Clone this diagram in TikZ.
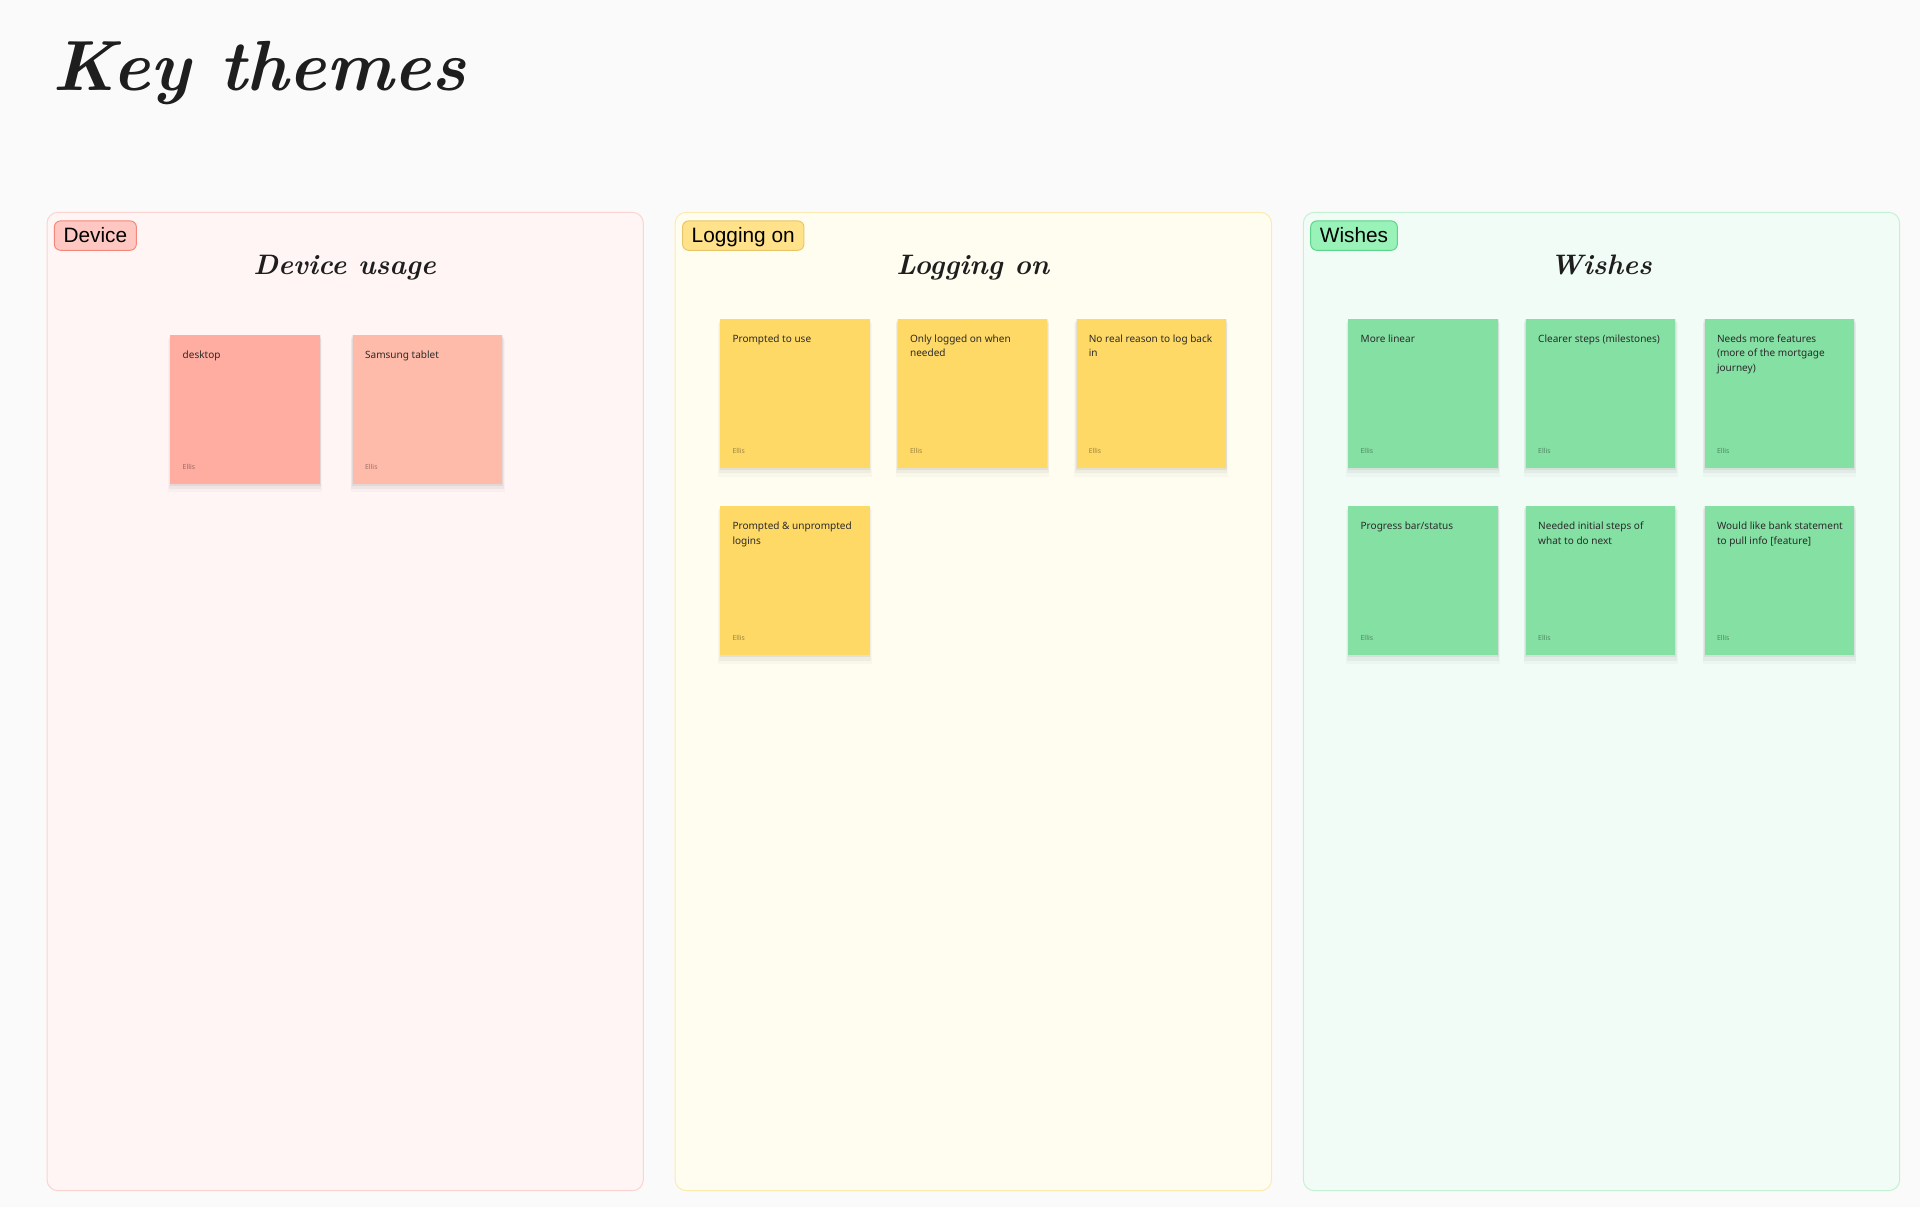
\documentclass[tikz,border=0pt]{standalone}
\usepackage{fontspec}
\newfontfamily\tagfont{Liberation Sans}
\newfontfamily\notefont{Noto Sans}
\usetikzlibrary{shadows}
\definecolor{bgcol}{HTML}{FAFAFA}
\definecolor{titlecol}{HTML}{1E1E1E}
\definecolor{notetext}{HTML}{2A2A2A}
\definecolor{devfill}{HTML}{FFF5F4}
\definecolor{devline}{HTML}{FBD3D0}
\definecolor{logfill}{HTML}{FFFDF0}
\definecolor{logline}{HTML}{FCEBB0}
\definecolor{wishfill}{HTML}{F2FCF6}
\definecolor{wishline}{HTML}{C3F2D3}
\definecolor{devtagfill}{HTML}{FFC7C2}
\definecolor{devtagline}{HTML}{F4877A}
\definecolor{logtagfill}{HTML}{FFE28A}
\definecolor{logtagline}{HTML}{E9C56A}
\definecolor{wishtagfill}{HTML}{99F2B8}
\definecolor{wishtagline}{HTML}{5BD38A}
\definecolor{pinkA}{HTML}{FFADA1}
\definecolor{pinkB}{HTML}{FFBBAA}
\definecolor{yellownote}{HTML}{FFD966}
\definecolor{greennote}{HTML}{85E0A3}
\newcommand\stickynote[5]{%
  \node[sticky, fill=#4] (#1) at (#2,#3) {};
  \node[stext] (#1-t) at ([xshift=10pt,yshift=-13pt]#1.north west) {#5};
  \node[sauthor] (#1-a) at ([xshift=10pt,yshift=12pt]#1.south west) {Ellis};
}
\begin{document}
\begin{tikzpicture}[x=1pt,y=-1pt,
  panel/.style={anchor=north west, inner sep=0pt, minimum width=487pt, minimum height=799pt, rounded corners=9pt, line width=0.8pt},
  tagbox/.style={anchor=north west, inner xsep=7.5pt, inner ysep=0pt, text height=14pt, text depth=2pt, minimum height=24pt, rounded corners=5pt, line width=0.8pt, font=\tagfont\fontsize{17}{17}\selectfont, text=black},
  subtitle/.style={anchor=base, inner sep=0pt, font=\fontsize{23}{23}\selectfont\bfseries\itshape, text=titlecol},
  sticky/.style={anchor=north west, inner sep=0pt, minimum width=122pt, minimum height=122pt,
    general shadow={shadow xshift=0pt, shadow yshift=-1pt, shadow scale=1.01, opacity=0.05, fill=black},
    general shadow={shadow xshift=0pt, shadow yshift=-3pt, shadow scale=1.02, opacity=0.04, fill=black},
    general shadow={shadow xshift=0pt, shadow yshift=-5pt, shadow scale=1.03, opacity=0.025, fill=black}},
  stext/.style={anchor=north west, inner sep=0pt, align=left, font=\notefont\fontsize{8.2}{12}\selectfont, text=notetext},
  sauthor/.style={anchor=base west, inner sep=0pt, font=\notefont\fontsize{5.6}{6}\selectfont, text=black, text opacity=0.4},
]
\fill[bgcol] (0,0) rectangle (1568,986);
\useasboundingbox (0,0) rectangle (1568,986);

\node[anchor=base west, inner sep=0pt, font=\fontsize{58}{58}\selectfont\bfseries\itshape, text=titlecol] (title) at (43,73.5) {Key themes};

% panels
\node[panel, fill=devfill, draw=devline] (p1) at (38,173) {};
\node[panel, fill=logfill, draw=logline] (p2) at (551,173) {};
\node[panel, fill=wishfill, draw=wishline] (p3) at (1064,173) {};

% tags
\node[tagbox, fill=devtagfill, draw=devtagline] (t1) at (44,180) {Device};
\node[tagbox, fill=logtagfill, draw=logtagline] (t2) at (557,180) {Logging on};
\node[tagbox, fill=wishtagfill, draw=wishtagline] (t3) at (1070,180) {Wishes};

% subtitles
\node[subtitle] (h1) at (281.5,224.5) {Device usage};
\node[subtitle] (h2) at (794.5,224.5) {Logging on};
\node[subtitle] (h3) at (1307.5,224.5) {Wishes};

% device notes
\stickynote{d1}{139}{273}{pinkA}{desktop}
\stickynote{d2}{288}{273}{pinkB}{Samsung tablet}

% logging notes
\stickynote{l1}{588}{260}{yellownote}{Prompted to use}
\stickynote{l2}{733}{260}{yellownote}{Only logged on when\\needed}
\stickynote{l3}{879}{260}{yellownote}{No real reason to log back\\in}
\stickynote{l4}{588}{413}{yellownote}{Prompted \& unprompted\\logins}

% wishes notes
\stickynote{w1}{1101}{260}{greennote}{More linear}
\stickynote{w2}{1246}{260}{greennote}{Clearer steps (milestones)}
\stickynote{w3}{1392}{260}{greennote}{Needs more features\\(more of the mortgage\\journey)}
\stickynote{w4}{1101}{413}{greennote}{Progress bar/status}
\stickynote{w5}{1246}{413}{greennote}{Needed initial steps of\\what to do next}
\stickynote{w6}{1392}{413}{greennote}{Would like bank statement\\to pull info [feature]}
\end{tikzpicture}
\end{document}
